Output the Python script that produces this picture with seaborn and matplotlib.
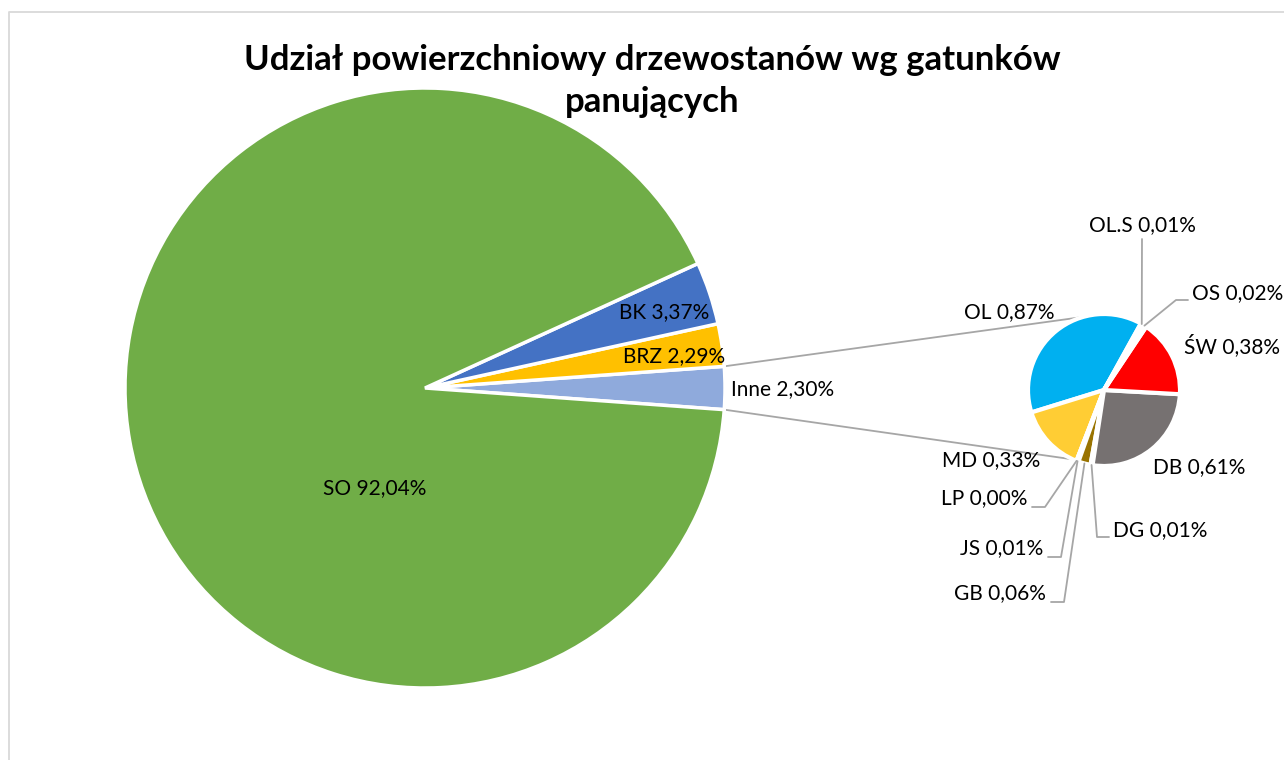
import numpy as np
import matplotlib
matplotlib.use('Agg')
import matplotlib.pyplot as plt
import seaborn as sns

# dane - wykres kołowy z wykresem pomocniczym
main_labels = ['Inne', 'BRZ', 'BK', 'SO']
main_values = [2.30, 2.29, 3.37, 92.04]
main_colors = ['#8FAADC', '#FFC000', '#4472C4', '#70AD47']

sub_labels = ['OL', 'MD', 'LP', 'JS', 'GB', 'DG', 'DB', 'ŚW', 'OS', 'OL.S']
sub_values = [0.87, 0.33, 0.00, 0.01, 0.06, 0.01, 0.61, 0.38, 0.02, 0.01]
sub_colors = ['#00B0F0', '#FFCD34', '#A5A5A5', '#5B9BD5', '#997300',
              '#264478', '#767171', '#FF0000', '#ED7D31', '#43682B']

title_lines = ['Udział powierzchniowy drzewostanów wg gatunków', 'panujących']

sns.set_theme(style='white')
plt.rcParams['font.family'] = ['Lato', 'DejaVu Sans']
plt.rcParams['text.color'] = 'black'

W, H = 1284, 760
fig = plt.figure(figsize=(W / 100, H / 100), dpi=100)
ax = fig.add_axes([0, 0, 1, 1])
ax.set_aspect('equal')

# ramka obszaru wykresu
ax.plot([9, 9, W + 5], [-5, H - 12, H - 12], color='#D9D9D9', lw=1.3)

def fmt(v):
    return f'{v:.2f}'.replace('.', ',') + '%'

# wykres główny
c1 = (425, H - 388)
r1 = 300
start1 = -main_values[0] / 100 * 360 / 2
w1, _ = ax.pie(main_values, colors=main_colors, startangle=start1, counterclock=True,
               center=c1, radius=r1, frame=True,
               wedgeprops={'edgecolor': 'white', 'linewidth': 2.5})

# wykres pomocniczy
c2 = (1104, H - 390)
r2 = 76
start2 = 61
w2, _ = ax.pie(sub_values, colors=sub_colors, startangle=start2, counterclock=True,
               center=c2, radius=r2, frame=True,
               wedgeprops={'edgecolor': 'white', 'linewidth': 3})
ax.set_xlim(0, W)
ax.set_ylim(0, H)
ax.axis('off')

# linie łączące
a_top = np.deg2rad(start1 + main_values[0] / 100 * 360)
a_bot = np.deg2rad(start1)
for a, b in [(a_top, np.deg2rad(106)), (a_bot, np.deg2rad(246))]:
    ax.plot([c1[0] + r1 * np.cos(a), c2[0] + r2 * np.cos(b)],
            [c1[1] + r1 * np.sin(a), c2[1] + r2 * np.sin(b)],
            color='#A6A6A6', lw=1.3, zorder=0)

fs = 15
# etykiety wykresu głównego
def mid_angle(w):
    return np.deg2rad((w.theta1 + w.theta2) / 2)

for w, lab, val in zip(w1, main_labels, main_values):
    a = mid_angle(w)
    if lab == 'Inne':
        ax.text(c1[0] + (r1 + 6) * np.cos(a), c1[1] + r1 * np.sin(a) - 1, f'{lab} {fmt(val)}',
                ha='left', va='center', fontsize=fs)
    elif lab == 'SO':
        ax.text(c1[0] - 50, c1[1] - 100, f'{lab} {fmt(val)}', ha='center', va='center', fontsize=fs)
    else:
        ax.text(c1[0] + 0.84 * r1 * np.cos(a), c1[1] + 0.84 * r1 * np.sin(a) - 4,
                f'{lab} {fmt(val)}', ha='center', va='center', fontsize=fs)

# etykiety wykresu pomocniczego: (x, y tekstu w pikselach, wyrównanie, łamana linia)
sub_pos = {
    'OL':   (1009, 312, 'center', None),
    'OL.S': (1142, 225, 'center', 'up'),
    'OS':   (1192, 293, 'left', 'left'),
    'ŚW':   (1232, 346, 'center', None),
    'DB':   (1199, 467, 'center', None),
    'DG':   (1113, 530, 'left', 'left'),
    'LP':   (1027, 498, 'right', 'right'),
    'JS':   (1043, 548, 'right', 'right'),
    'GB':   (1046, 593, 'right', 'right'),
    'MD':   (1040, 460, 'right', None),
}
lc = '#A6A6A6'
for w, lab, val in zip(w2, sub_labels, sub_values):
    x, y, ha, leader = sub_pos[lab]
    Y = H - y
    ax.text(x, Y, f'{lab} {fmt(val)}', ha=ha, va='center', fontsize=fs)
    if leader is None:
        continue
    a = mid_angle(w)
    px, py = c2[0] + r2 * np.cos(a), c2[1] + r2 * np.sin(a)
    if leader == 'up':
        ax.plot([x, px], [Y - 14, py], color=lc, lw=1.3)
    elif leader == 'left':
        ax.plot([x - 4, x - 16, px], [Y - 7, Y - 7, py], color=lc, lw=1.3)
    else:
        ax.plot([x + 5, x + 18, px], [Y - 9, Y - 9, py], color=lc, lw=1.3)

for line, y in zip(title_lines, [60, 102]):
    ax.text(652, H - y, line, ha='center', va='center', fontsize=25, fontweight='bold')

fig.savefig('out.png', dpi=100)
